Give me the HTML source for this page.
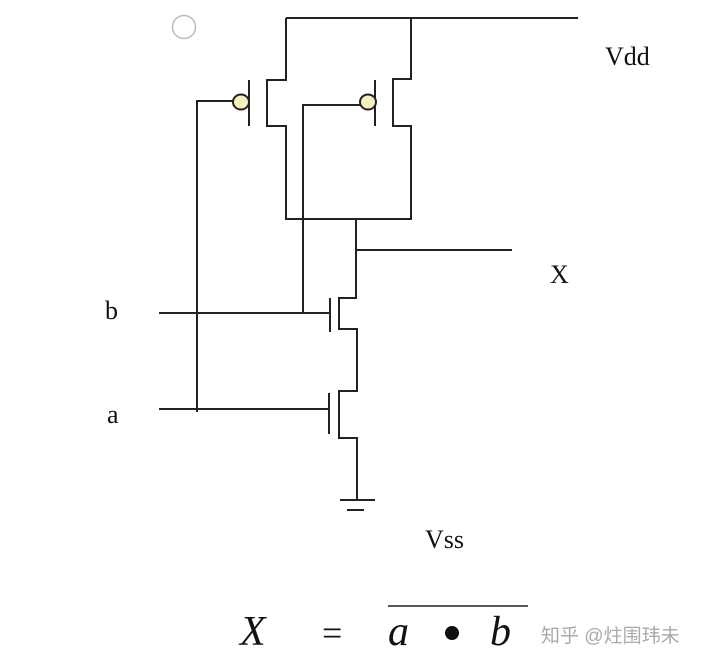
<!DOCTYPE html>
<html><head><style>
html,body{margin:0;padding:0;background:#fff;width:716px;height:668px;overflow:hidden}
</style></head><body>
<svg width="716" height="668" viewBox="0 0 716 668" xmlns="http://www.w3.org/2000/svg">
<g stroke="#222" stroke-width="2" fill="none">
<circle cx="184" cy="27" r="11.5" stroke="#bbb" stroke-width="1.5"/>
<path d="M286 18H578"/>
<path d="M286 18V80H267V126H286V219H411V126H393V79H411V18"/>
<path d="M249 80V126"/>
<path d="M375 80V126"/>
<path d="M233 101H197V412"/>
<path d="M360 105H303V313"/>
<path d="M356 219V298H339V329H357V391H339V438H357V500"/>
<path d="M356 250H512"/>
<path d="M330 298V332"/>
<path d="M329 393V434"/>
<path d="M159 313H330"/>
<path d="M159 409H329"/>
<path d="M340 500H375"/>
<path d="M347 510H364"/>
<path d="M388 606H528" stroke-width="1.5"/>
</g>
<ellipse cx="241" cy="102" rx="8" ry="7.5" fill="#f7efc0" stroke="#222" stroke-width="2"/>
<ellipse cx="368" cy="102" rx="8" ry="7.5" fill="#f7efc0" stroke="#222" stroke-width="2"/>
<g font-family="Liberation Serif, serif" fill="#111" font-size="26">
<text x="605" y="65">Vdd</text>
<text x="550" y="283">X</text>
<text x="105" y="319">b</text>
<text x="107" y="423">a</text>
<text x="425" y="548">Vss</text>
<text x="240" y="645" font-size="42" font-style="italic">X</text>
<text x="322" y="645" font-size="36">=</text>
<text x="388" y="645" font-size="42" font-style="italic">a</text>
<circle cx="452" cy="633" r="7" fill="#111"/>
<text x="490" y="645" font-size="42" font-style="italic">b</text>
</g>
<text x="541" y="642" font-family="Liberation Sans, Noto Sans CJK SC, sans-serif" font-size="19" fill="#aaa">知乎 @炷围玮未</text>
</svg>
</body></html>
